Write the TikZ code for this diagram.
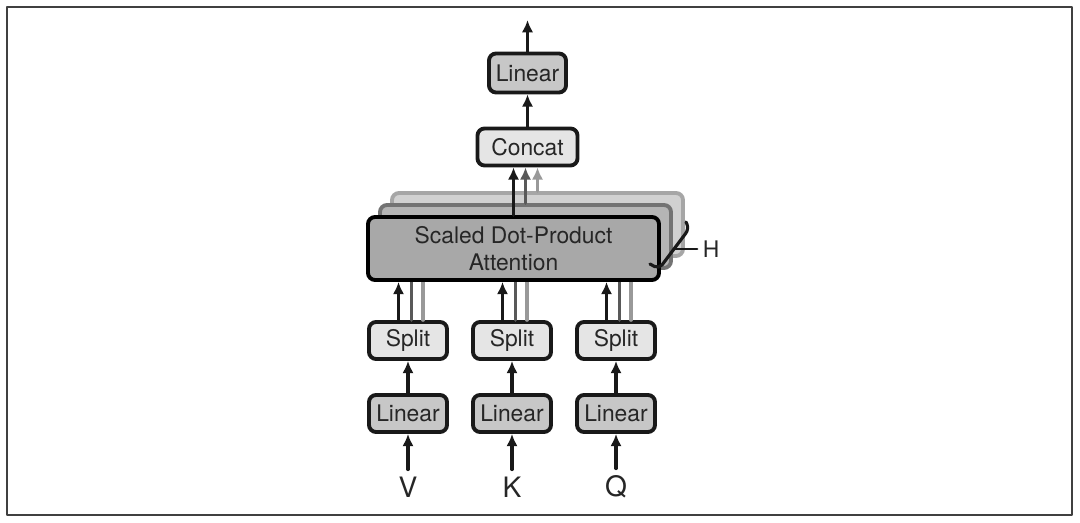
\documentclass[tikz,border=0pt]{standalone}
\usepackage{fontspec}
\setmainfont{TeX Gyre Heros}
\usetikzlibrary{arrows.meta}

\begin{document}
\begin{tikzpicture}[>={Latex[length=7pt,width=6.5pt]},line join=round,line cap=round,
  box/.style={draw=black!90,line width=2.2pt,rounded corners=4pt,inner sep=0pt,
    minimum width=1.56cm,minimum height=0.74cm,font=\fontsize{13}{15}\selectfont,text=black!85},
  darkbox/.style={box,fill=black!22},
  lightbox/.style={box,fill=black!10},
  arr/.style={->,line width=2pt,black!90}]
\useasboundingbox (0,0) rectangle (21.6,10.46);
\draw[black!75,line width=0.6pt] (0.14,0.16) rectangle (21.44,10.32);
\node[darkbox,minimum width=1.54cm,minimum height=0.78cm] (linout) at (10.55,9.0) {Linear};
\node[lightbox,minimum width=2.0cm] (concat) at (10.55,7.52) {Concat};
\coordinate (out) at (10.55,10.06);
\draw[arr] (linout) -- (out);
\draw[arr] (concat) -- (linout);
\node[box,fill=black!18,draw=black!35,minimum width=5.82cm,minimum height=1.26cm] (sdp3) at (10.75,5.97) {};
\node[box,fill=black!29,draw=black!55,minimum width=5.82cm,minimum height=1.26cm] (sdp2) at (10.51,5.73) {};
\foreach \x/\l [count=\i] in {8.16/V,10.24/K,12.32/Q}{
    \node[font=\fontsize{16}{18}\selectfont,text=black!85,inner sep=4pt] (in\i) at (\x,0.72) {\l};
    \node[darkbox] (lin\i) at (\x,2.19) {Linear};
    \node[lightbox] (split\i) at (\x,3.65) {Split};
    \draw[arr] (in\i) -- (lin\i);
    \draw[arr] (lin\i) -- (split\i);
    \draw[line width=2pt,black!40] ([xshift=0.3cm]split\i.north) -- ([xshift=0.3cm]split\i.north |- sdp3.south);
    \draw[line width=2pt,black!65] ([xshift=0.07cm]split\i.north) -- ([xshift=0.07cm]split\i.north |- sdp3.south);
}
\node[box,fill=black!34,draw=black,minimum width=5.82cm,minimum height=1.26cm,align=center] (sdp1) at (10.27,5.49) {Scaled Dot-Product\\Attention};
\foreach \i in {1,2,3}
    \draw[arr] ([xshift=-0.19cm]split\i.north) -- ([xshift=-0.19cm]split\i.north |- sdp1.south);
\foreach \i/\c in {3/black!40,2/black!65,1/black!90}
    \draw[arr,\c] (sdp\i.north) -- (sdp\i.north |- concat.south);
\node[font=\fontsize{13}{15}\selectfont,text=black!85,inner sep=3pt] (hlab) at (14.22,5.48) {H};
\draw[line width=1.8pt,black!90,rounded corners=3pt] (13.0,5.18) -- (13.18,5.08) -- (13.78,5.88) -- (13.72,6.02);
\coordinate (brk) at (13.5,5.48);
\draw[line width=1.5pt,black!90] (brk) -- (hlab.west);
\end{tikzpicture}
\end{document}
